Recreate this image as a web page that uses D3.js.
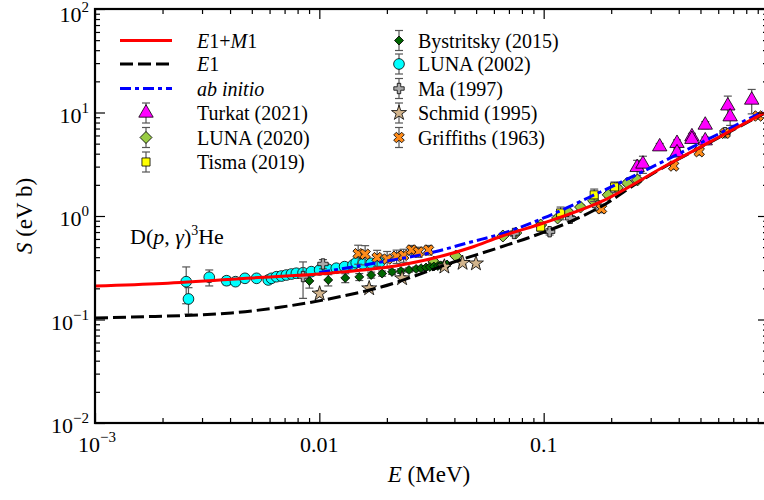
<!DOCTYPE html>
<html>
<head>
<meta charset="utf-8">
<script src="https://cdn.jsdelivr.net/npm/d3@7"></script>
<style>
  body { margin: 0; background: #fff; }
  svg text { font-family: "Liberation Serif", "Times New Roman", Times, serif; fill: #000; }
</style>
</head>
<body>
<svg id="chart"></svg>
<script>
// axis ticks
const xTicks = [1e-3, 1e-2, 1e-1, 1];
const xTickText = [["10", "−3"], ["0.01"], ["0.1"], ["1"]];
const yTicks = [1e-2, 1e-1, 1, 10, 100];
const yTickExp = ["−2", "−1", "0", "1", "2"];

// model curves (E in MeV, S in eV b)
const e1m1E = [0.001, 0.002, 0.005, 0.0113, 0.0231, 0.0474, 0.0644, 0.1, 0.179, 0.3546, 0.5995, 0.96];
const e1m1S = [0.211, 0.223, 0.252, 0.2815, 0.336, 0.496, 0.634, 0.856, 1.366, 3.11, 5.73, 9.89];
const e1E = [0.001, 0.00146, 0.00406, 0.00678, 0.0113, 0.01886, 0.0398, 0.0644, 0.0876, 0.146, 0.179, 0.27, 0.3546, 0.5995, 0.96];
const e1S = [0.1034, 0.1057, 0.1156, 0.132, 0.1596, 0.206, 0.3594, 0.5017, 0.627, 0.978, 1.222, 2.18, 3.08, 5.67, 9.78];
const abE = [0.00999, 0.01945, 0.0324, 0.0474, 0.0644, 0.1, 0.179, 0.3784, 0.95];
const abS = [0.285, 0.3635, 0.449, 0.561, 0.67, 0.957, 1.706, 3.76, 10.2];

// measurements
const turkatE = [0.261, 0.277, 0.329, 0.393, 0.393, 0.458, 0.458, 0.525, 0.525, 0.662, 0.678, 0.846];
const turkatS = [2.95, 3.18, 4.67, 5.04, 4.09, 5.84, 5.51, 7.57, 5.34, 11.6, 9.1, 13.2];
const turkatErr = [0.5, 0.6, 0.35, 0.4, 0.35, 0.45, 0.4, 0.6, 0.45, 2.8, 1.6, 3.5];

const luna20E = [0.0324, 0.0406, 0.0658, 0.0751, 0.097, 0.1154, 0.129, 0.146, 0.167, 0.194, 0.213, 0.236, 0.262];
const luna20S = [0.359, 0.411, 0.641, 0.685, 0.819, 0.957, 1.09, 1.22, 1.40, 1.60, 1.87, 2.08, 2.23];
const luna20Err = [0.02, 0.02, 0.03, 0.03, 0.04, 0.05, 0.05, 0.06, 0.07, 0.08, 0.09, 0.1, 0.1];

const tismaE = [0.097, 0.119, 0.168, 0.207];
const tismaS = [0.783, 1.07, 1.60, 1.91];
const tismaErr = [0.07, 0.15, 0.22, 0.22];

const bystE = [0.00903, 0.01096, 0.01305, 0.01507, 0.01702, 0.01905, 0.0211, 0.0231, 0.0251, 0.0270, 0.0284, 0.0299, 0.0311, 0.0324, 0.0338, 0.0348, 0.0359, 0.0371];
const bystS = [0.236, 0.241, 0.252, 0.258, 0.269, 0.278, 0.288, 0.294, 0.301, 0.308, 0.313, 0.318, 0.322, 0.325, 0.329, 0.333, 0.336, 0.340];
const bystErr = [0.035, 0.03, 0.025, 0.02, 0.018, 0.016, 0.015, 0.015, 0.014, 0.014, 0.013, 0.013, 0.013, 0.013, 0.013, 0.013, 0.013, 0.013];

const luna02E = [0.00255, 0.00261, 0.00323, 0.00386, 0.00423, 0.00466, 0.00525, 0.00592, 0.00612, 0.00644, 0.00678, 0.00713, 0.00751, 0.0079, 0.00846, 0.00921, 0.01003, 0.01093, 0.0119, 0.01296, 0.01412, 0.0146, 0.01564, 0.01702, 0.01854];
const luna02S = [0.232, 0.158, 0.256, 0.237, 0.232, 0.250, 0.250, 0.241, 0.250, 0.259, 0.263, 0.269, 0.275, 0.280, 0.283, 0.290, 0.301, 0.306, 0.313, 0.324, 0.336, 0.354, 0.344, 0.349, 0.354];
const luna02Err = [0.09, 0.045, 0.045, 0.02, 0.012, 0.01, 0.008, 0.008, 0.008, 0.008, 0.008, 0.008, 0.008, 0.008, 0.008, 0.008, 0.01, 0.01, 0.01, 0.01, 0.01, 0.01, 0.01, 0.01, 0.01];

const maE = [0.00846, 0.01038, 0.0738, 0.1063, 0.132, 0.174, 0.644];
const maS = [0.26, 0.344, 0.678, 0.705, 0.95, 1.25, 6.38];
const maErr = [0.1, 0.035, 0.04, 0.05, 0.06, 0.08, 0.35];

const schmidE = [0.01003, 0.01668, 0.02338, 0.0361, 0.0435, 0.0499];
const schmidS = [0.178, 0.200, 0.250, 0.324, 0.352, 0.348];
const schmidErr = [0.012, 0.012, 0.013, 0.015, 0.016, 0.016];

const griffE = [0.0149, 0.016, 0.0181, 0.02006, 0.0221, 0.02375, 0.02577, 0.02768, 0.03066, 0.181, 0.3795, 0.4935, 0.644, 0.903];
const griffS = [0.432, 0.427, 0.396, 0.384, 0.408, 0.417, 0.469, 0.449, 0.469, 1.174, 3.04, 4.18, 6.3, 9.25];
const griffErr = [0.09, 0.09, 0.07, 0.07, 0.06, 0.06, 0.05, 0.05, 0.05, 0.1, 0.2, 0.3, 0.4, 0.6];

const W = 764, H = 500;
const pLeft = 95, pRight = 768, pTop = 9, pBottom = 423;
const serif = "Liberation Serif, Times New Roman, serif";

const svg = d3.select("#chart").attr("width", W).attr("height", H)
              .attr("font-family", serif);

const x = d3.scaleLog().domain([1e-3, 1]).range([pLeft, pRight]);
const y = d3.scaleLog().domain([1e-2, 1e2]).range([pBottom, pTop]);

svg.append("defs").append("clipPath").attr("id", "clip")
   .append("rect").attr("x", pLeft).attr("y", pTop)
   .attr("width", pRight - pLeft).attr("height", pBottom - pTop);

const plot = svg.append("g").attr("clip-path", "url(#clip)");

// data sets, drawn in legend order
const sets = [
  { E: turkatE, S: turkatS, err: turkatErr, sym: d3.symbolTriangle, size: 90, rot: 0, fill: "#ff00ff", name: "Turkat (2021)" },
  { E: luna20E, S: luna20S, err: luna20Err, sym: d3.symbolSquare, size: 72, rot: 45, fill: "#99cc44", name: "LUNA (2020)" },
  { E: tismaE, S: tismaS, err: tismaErr, sym: d3.symbolSquare, size: 66, rot: 0, fill: "#ffff00", name: "Tisma (2019)" },
  { E: bystE, S: bystS, err: bystErr, sym: d3.symbolSquare, size: 40, rot: 45, fill: "#006400", name: "Bystritsky (2015)" },
  { E: luna02E, S: luna02S, err: luna02Err, sym: d3.symbolCircle, size: 90, rot: 0, fill: "#00ffff", name: "LUNA (2002)" },
  { E: maE, S: maS, err: maErr, sym: d3.symbolCross, size: 60, rot: 0, fill: "#a9a9a9", name: "Ma (1997)" },
  { E: schmidE, S: schmidS, err: schmidErr, sym: d3.symbolStar, size: 70, rot: 0, fill: "#d2b48c", name: "Schmid (1995)" },
  { E: griffE, S: griffS, err: griffErr, sym: d3.symbolCross, size: 70, rot: 45, fill: "#ff8c1a", name: "Griffiths (1963)" }
];

const errColor = "#555";
const cap = 4;

function drawErr(g, px, pyLo, pyHi) {
  g.append("line").attr("x1", px).attr("x2", px).attr("y1", pyLo).attr("y2", pyHi)
   .attr("stroke", errColor).attr("stroke-width", 1.2);
  [pyLo, pyHi].forEach(v => g.append("line").attr("x1", px - cap).attr("x2", px + cap)
   .attr("y1", v).attr("y2", v).attr("stroke", errColor).attr("stroke-width", 1.2));
}

function drawSym(g, s, px, py) {
  g.append("path").attr("d", d3.symbol().type(s.sym).size(s.size)())
   .attr("transform", `translate(${px},${py}) rotate(${s.rot})`)
   .attr("fill", s.fill).attr("stroke", "#000").attr("stroke-width", 0.8);
}

sets.forEach(s => {
  const g = plot.append("g");
  s.E.forEach((e, i) => {
    drawErr(g, x(e), y(s.S[i] - s.err[i]), y(s.S[i] + s.err[i]));
  });
  s.E.forEach((e, i) => drawSym(g, s, x(e), y(s.S[i])));
});

// curves
const line = d3.line().x(d => x(d[0])).y(d => y(d[1])).curve(d3.curveMonotoneX);
const curves = [
  { E: e1E, S: e1S, color: "#000", dash: "13,5" },
  { E: abE, S: abS, color: "#0000ff", dash: "11,4,4,4" },
  { E: e1m1E, S: e1m1S, color: "#ff0000", dash: null }
];
curves.forEach(c => {
  plot.append("path").datum(c.E.map((e, i) => [e, c.S[i]]))
      .attr("d", line).attr("fill", "none")
      .attr("stroke", c.color).attr("stroke-width", 3)
      .attr("stroke-dasharray", c.dash);
});

// axes with inward ticks
const minorX = x.ticks().filter(v => !xTicks.some(t => Math.abs(t - v) / t < 1e-6));
const minorY = y.ticks().filter(v => !yTicks.some(t => Math.abs(t - v) / t < 1e-6));

function addAxis(gen, tr, values, size) {
  const g = svg.append("g").attr("transform", tr)
     .call(gen.tickValues(values).tickSize(-size).tickSizeOuter(0).tickFormat(""));
  g.select(".domain").remove();
  g.selectAll(".tick line").attr("stroke", "#000").attr("stroke-width", 1.2);
}
addAxis(d3.axisBottom(x), `translate(0,${pBottom})`, xTicks, 10);
addAxis(d3.axisBottom(x), `translate(0,${pBottom})`, minorX, 5);
addAxis(d3.axisTop(x), `translate(0,${pTop})`, xTicks, 10);
addAxis(d3.axisTop(x), `translate(0,${pTop})`, minorX, 5);
addAxis(d3.axisLeft(y), `translate(${pLeft},0)`, yTicks, 10);
addAxis(d3.axisLeft(y), `translate(${pLeft},0)`, minorY, 5);
addAxis(d3.axisRight(y), `translate(${pRight},0)`, yTicks, 10);
addAxis(d3.axisRight(y), `translate(${pRight},0)`, minorY, 5);

svg.append("rect").attr("x", pLeft).attr("y", pTop)
   .attr("width", pRight - pLeft).attr("height", pBottom - pTop)
   .attr("fill", "none").attr("stroke", "#000").attr("stroke-width", 2.2);

// tick labels
xTicks.forEach((t, i) => {
  const tx = svg.append("text").attr("x", x(t) + (i === 0 ? 2 : 0)).attr("y", 452)
     .attr("text-anchor", "middle").attr("font-size", 22);
  tx.append("tspan").text(xTickText[i][0]);
  if (xTickText[i][1]) tx.append("tspan").attr("dy", -10).attr("font-size", 15).text(xTickText[i][1]);
});
yTicks.forEach((t, i) => {
  const ty = svg.append("text").attr("x", 89).attr("y", Math.max(y(t) + 10, 22))
     .attr("text-anchor", "end").attr("font-size", 22);
  ty.append("tspan").text("10");
  ty.append("tspan").attr("dy", -10).attr("font-size", 15).text(yTickExp[i]);
});

// axis titles
const xt = svg.append("text").attr("x", 429).attr("y", 482).attr("text-anchor", "middle").attr("font-size", 23);
xt.append("tspan").attr("font-style", "italic").text("E");
xt.append("tspan").text(" (MeV)");

const yt = svg.append("text").attr("transform", "translate(32,216) rotate(-90)")
   .attr("text-anchor", "middle").attr("font-size", 23);
yt.append("tspan").attr("font-style", "italic").text("S");
yt.append("tspan").text(" (eV b)");

// reaction label
const rl = svg.append("text").attr("x", 130).attr("y", 244).attr("font-size", 22);
rl.append("tspan").text("D(");
rl.append("tspan").attr("font-style", "italic").text("p");
rl.append("tspan").text(", ");
rl.append("tspan").attr("font-style", "italic").text("γ");
rl.append("tspan").text(")");
rl.append("tspan").attr("dy", -9).attr("font-size", 14).text("3");
rl.append("tspan").attr("dy", 9).text("He");

// legend
const lg = svg.append("g").attr("font-size", 20);
const rowY = [40.5, 64, 88.5, 113, 137.5, 162];
const lineItems = [
  { c: curves[2], parts: [["E", 1], ["1+", 0], ["M", 1], ["1", 0]] },
  { c: curves[0], parts: [["E", 1], ["1", 0]] },
  { c: curves[1], parts: [["ab initio", 1]] }
];
lineItems.forEach((it, i) => {
  lg.append("line").attr("x1", 120).attr("x2", 172).attr("y1", rowY[i]).attr("y2", rowY[i])
    .attr("stroke", it.c.color).attr("stroke-width", 3).attr("stroke-dasharray", it.c.dash);
  const t = lg.append("text").attr("x", 197).attr("y", rowY[i] + 7);
  it.parts.forEach(p => t.append("tspan").attr("font-style", p[1] ? "italic" : null).text(p[0]));
});
sets.forEach((s, i) => {
  const col = i < 3 ? 0 : 1;
  const ry = col === 0 ? rowY[i + 3] : rowY[i - 3];
  const mx = col === 0 ? 146 : 399;
  const g = lg.append("g");
  drawErr(g, mx, ry - 10, ry + 10);
  drawSym(g, s, mx, ry);
  lg.append("text").attr("x", col === 0 ? 197 : 418).attr("y", ry + 7).text(s.name);
});
</script>
</body>
</html>
